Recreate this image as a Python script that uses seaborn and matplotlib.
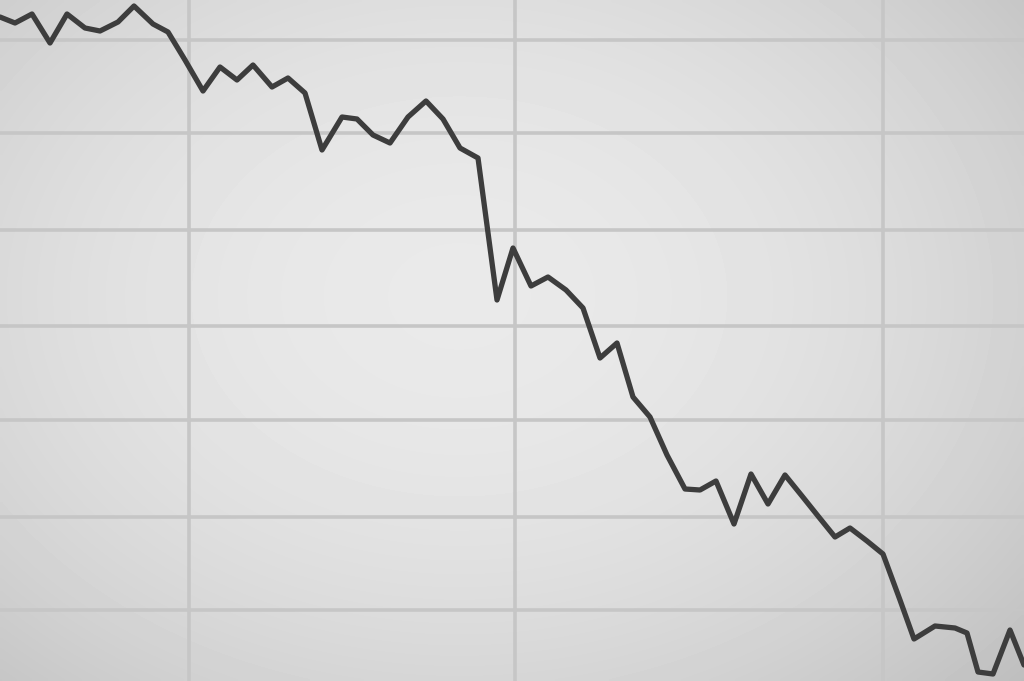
import numpy as np
import matplotlib
matplotlib.use("Agg")
import matplotlib.pyplot as plt
import seaborn as sns
import pandas as pd

# Serie (x = posición horizontal, y = nivel, 0 abajo)
x_vals = [0, 15, 32, 50, 67, 85, 100, 118, 134, 153, 168, 185, 203, 220, 237,
          253, 272, 288, 305, 322, 342, 357, 373, 390, 408, 426, 443, 460, 478,
          497, 513, 531, 548, 566, 583, 600, 617, 633, 650, 667, 685, 700, 716,
          734, 751, 768, 785, 802, 818, 835, 850, 867, 883, 900, 914, 935, 955,
          967, 978, 993, 1010, 1024]
y_pix = [17, 23, 14, 43, 14, 28, 31, 22, 6, 24, 32, 60, 91, 67, 80,
         65, 87, 78, 93, 150, 117, 119, 135, 143, 117, 101, 119, 148, 158,
         300, 248, 286, 277, 290, 308, 358, 343, 397, 417, 455, 489, 490, 481,
         524, 474, 504, 475, 496, 516, 537, 528, 541, 554, 600, 639, 626, 628,
         633, 672, 674, 630, 665]
y_vals = [681 - v for v in y_pix]

# Posiciones de la cuadrícula del papel
grid_x = [189, 515, 883]
grid_y = [681 - v for v in [40, 133, 230, 326, 420, 517, 610]]

df = pd.DataFrame({"x": x_vals, "y": y_vals})

sns.set_style("white")
fig = plt.figure(figsize=(10.24, 6.81), dpi=100)
ax = fig.add_axes([0, 0, 1, 1])

# Fondo con viñeta (efecto de foto)
gx, gy = np.meshgrid(np.linspace(-1, 1, 256), np.linspace(-1, 1, 170))
r = np.sqrt((gx * 0.9) ** 2 + (gy * 0.8) ** 2)
bg = 233 - 24 * r ** 2 - 8 * (gx + gy) / 2
ax.imshow(bg, cmap="gray", vmin=0, vmax=255, extent=[0, 1024, 0, 681],
          aspect="auto", zorder=0, interpolation="bilinear")

sns.lineplot(data=df, x="x", y="y", ax=ax, color="#3d3d3d", linewidth=3.8,
             zorder=3)

ax.set_xlim(0, 1024)
ax.set_ylim(0, 681)
ax.set_xticks(grid_x)
ax.set_yticks(grid_y)
ax.grid(True, color="#c6c6c6", linewidth=2.6)
ax.tick_params(left=False, bottom=False, labelleft=False, labelbottom=False)
ax.set_xlabel("")
ax.set_ylabel("")
for s in ax.spines.values():
    s.set_visible(False)

fig.savefig("out.png", dpi=100)
plt.close()
